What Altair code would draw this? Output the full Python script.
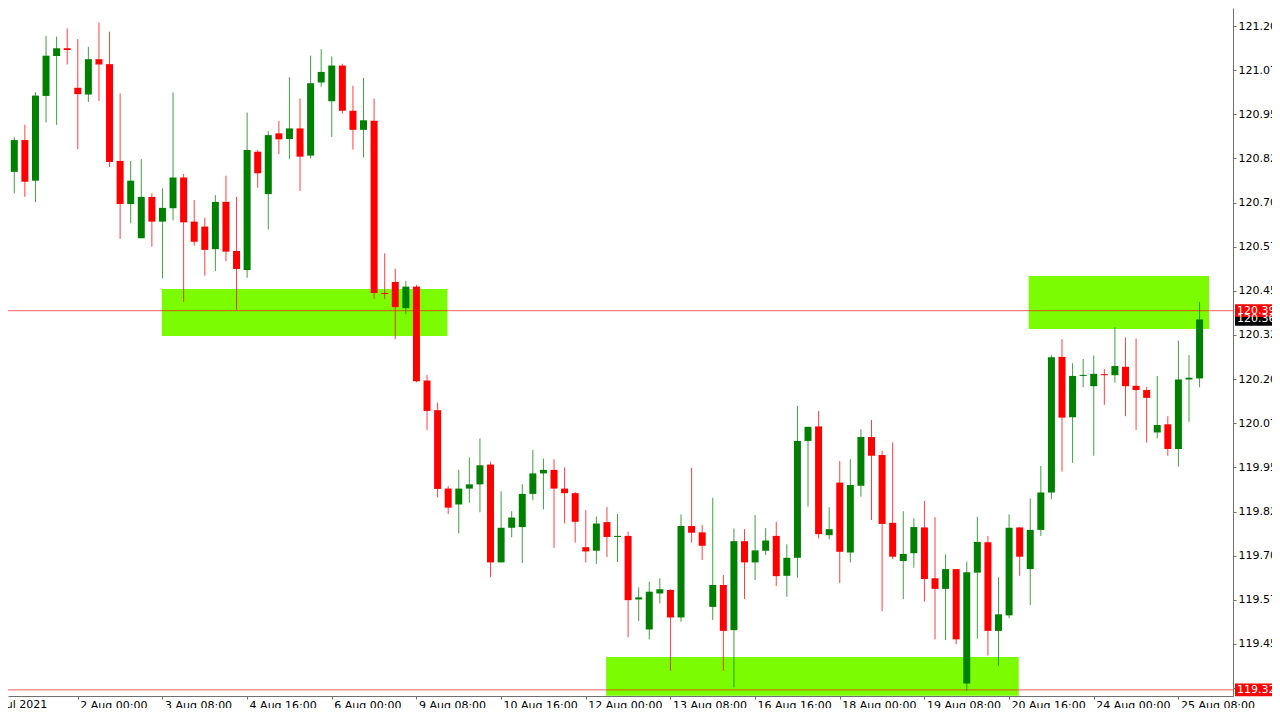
import json
import altair as alt
import pandas as pd

# ---- candle data (H4) ----
opens = [
    120.787, 120.877, 120.762, 121.002, 121.115, 121.137, 121.025, 121.006, 121.106, 121.092,
    120.818, 120.696, 120.599, 120.716, 120.646, 120.684, 120.771, 120.646, 120.632, 120.568,
    120.702, 120.563, 120.509, 120.844, 120.724, 120.896, 120.880, 120.910, 120.833, 121.040,
    120.987, 121.088, 120.960, 120.906, 120.932, 120.444, 120.475, 120.401, 120.462, 120.196,
    120.112, 119.890, 119.845, 119.890, 119.902, 119.958, 119.681, 119.779, 119.781, 119.875,
    119.933, 119.943, 119.890, 119.877, 119.724, 119.714, 119.795, 119.753, 119.756, 119.576,
    119.491, 119.593, 119.603, 119.525, 119.784, 119.766, 119.555, 119.617, 119.489, 119.741,
    119.681, 119.714, 119.756, 119.643, 119.694, 120.025, 120.066, 119.758, 119.907, 119.709,
    119.898, 120.036, 119.985, 119.793, 119.685, 119.707, 119.780, 119.636, 119.606, 119.662,
    119.338, 119.652, 119.738, 119.487, 119.531, 119.780, 119.662, 119.773, 119.879, 120.263,
    120.092, 120.209, 120.180, 120.214, 120.211, 120.235, 120.181, 120.169, 120.049, 120.072,
    120.002, 120.199, 120.202]
closes = [
    120.877, 120.759, 121.003, 121.116, 121.137, 121.132, 121.007, 121.106, 121.091, 120.815,
    120.696, 120.762, 120.716, 120.646, 120.685, 120.771, 120.644, 120.589, 120.566, 120.702,
    120.561, 120.512, 120.849, 120.783, 120.891, 120.879, 120.910, 120.830, 121.038, 121.070,
    121.088, 120.960, 120.906, 120.933, 120.444, 120.441, 120.404, 120.462, 120.194, 120.110,
    119.889, 119.836, 119.890, 119.902, 119.956, 119.681, 119.779, 119.808, 119.875, 119.933,
    119.943, 119.890, 119.877, 119.796, 119.712, 119.791, 119.753, 119.756, 119.574, 119.582,
    119.598, 119.605, 119.525, 119.784, 119.765, 119.728, 119.617, 119.487, 119.741, 119.681,
    119.715, 119.743, 119.642, 119.694, 120.025, 120.065, 119.761, 119.775, 119.711, 119.900,
    120.036, 119.983, 119.790, 119.697, 119.705, 119.781, 119.634, 119.606, 119.662, 119.463,
    119.653, 119.739, 119.487, 119.534, 119.779, 119.697, 119.773, 119.879, 120.262, 120.091,
    120.209, 120.212, 120.215, 120.211, 120.237, 120.180, 120.169, 120.147, 120.070, 120.002,
    120.199, 120.204, 120.369]
highs = [
    120.886, 120.920, 121.012, 121.172, 121.170, 121.193, 121.163, 121.141, 121.210, 121.184,
    121.009, 120.818, 120.823, 120.726, 120.740, 121.012, 120.781, 120.707, 120.657, 120.721,
    120.776, 120.716, 120.955, 120.849, 120.902, 120.931, 121.055, 120.995, 121.116, 121.134,
    121.114, 121.093, 121.031, 121.053, 120.994, 120.556, 120.513, 120.478, 120.467, 120.212,
    120.133, 119.897, 119.943, 119.978, 120.032, 119.966, 119.882, 119.826, 119.902, 119.999,
    119.975, 119.973, 119.950, 119.880, 119.829, 119.811, 119.838, 119.818, 119.768, 119.610,
    119.626, 119.636, 119.605, 119.817, 119.949, 119.787, 119.864, 119.645, 119.777, 119.775,
    119.815, 119.778, 119.796, 119.732, 120.124, 120.065, 120.110, 119.837, 119.968, 119.973,
    120.058, 120.084, 119.997, 120.021, 119.826, 119.806, 119.855, 119.809, 119.704, 119.662,
    119.683, 119.810, 119.756, 119.639, 119.817, 119.780, 119.862, 119.954, 120.268, 120.313,
    120.245, 120.257, 120.267, 120.229, 120.347, 120.318, 120.315, 120.178, 120.209, 120.095,
    120.309, 120.268, 120.419]
lows = [
    120.726, 120.716, 120.701, 120.927, 120.920, 121.091, 120.851, 120.985, 120.988, 120.801,
    120.597, 120.641, 120.599, 120.575, 120.485, 120.650, 120.419, 120.578, 120.493, 120.506,
    120.534, 120.396, 120.487, 120.742, 120.624, 120.837, 120.823, 120.733, 120.825, 121.028,
    120.886, 120.952, 120.850, 120.828, 120.427, 120.427, 120.313, 120.384, 120.191, 120.056,
    119.865, 119.818, 119.763, 119.850, 119.823, 119.639, 119.681, 119.752, 119.679, 119.857,
    119.831, 119.722, 119.791, 119.737, 119.681, 119.677, 119.696, 119.682, 119.469, 119.515,
    119.463, 119.565, 119.374, 119.513, 119.737, 119.688, 119.518, 119.374, 119.327, 119.577,
    119.631, 119.702, 119.614, 119.584, 119.638, 119.839, 119.749, 119.746, 119.622, 119.681,
    119.867, 119.801, 119.543, 119.690, 119.577, 119.666, 119.570, 119.463, 119.461, 119.449,
    119.317, 119.465, 119.417, 119.388, 119.523, 119.643, 119.560, 119.756, 119.860, 119.938,
    119.963, 120.177, 119.983, 120.127, 120.190, 120.095, 120.056, 120.020, 120.032, 119.983,
    119.952, 120.079, 120.177]

# x-axis time labels (every 8 bars)
tick_bars = [6, 14, 22, 30, 38, 46, 54, 62, 70, 78, 86, 94, 102, 110]
tick_labels = ["2 Aug 00:00", "3 Aug 08:00", "4 Aug 16:00", "6 Aug 00:00",
               "9 Aug 08:00", "10 Aug 16:00", "12 Aug 00:00", "13 Aug 08:00",
               "16 Aug 16:00", "18 Aug 00:00", "19 Aug 08:00", "20 Aug 16:00",
               "24 Aug 00:00", "25 Aug 08:00"]
first_label = "30 Jul 2021"

# price-axis labels
price_ticks = [119.325, 119.450, 119.575, 119.700, 119.825, 119.950, 120.075, 120.200,
               120.325, 120.450, 120.575, 120.700, 120.825, 120.950, 121.075, 121.200]

# supply / demand zones (bar index range, price range)
zone_start = [13.94, 55.92, 95.85]
zone_end = [40.93, 94.91, 112.9]
zone_top = [120.455, 119.413, 120.492]
zone_bottom = [120.322, 119.303, 120.342]

# horizontal levels and price tags
levels = [120.394, 119.320]
tag_prices = [120.369, 120.394, 119.320]
tag_colors = ["black", "#ff0000", "#ff0000"]

# ---- layout ----
W, H = 1225, 688
xs = alt.Scale(domain=[-0.122, 114.686], nice=False, zero=False)
ys = alt.Scale(domain=[119.3026, 121.251], nice=False, zero=False)
FONT = "DejaVu Sans"

label_expr = json.dumps(tick_labels) + "[round((datum.value - 6) / 8)]"
xaxis = alt.Axis(values=tick_bars, labelExpr=label_expr, title=None, grid=False,
                 orient="bottom", domainColor="#707070", tickColor="#707070",
                 tickSize=3, labelAlign="left", labelBaseline="top", labelPadding=0,
                 labelOffset=2, labelFont=FONT, labelFontSize=11, labelColor="black",
                 labelOverlap=False, labelFlush=False)
yaxis = alt.Axis(values=price_ticks, format=".3f", title=None, grid=False,
                 orient="right", domainColor="#707070", tickColor="#707070",
                 tickSize=3, labelPadding=2, labelFont=FONT, labelFontSize=11,
                 labelColor="black", labelOverlap=False, labelFlush=False,
                 labelAlign="left")

candles = pd.DataFrame({
    "bar": list(range(len(opens))),
    "open": opens, "high": highs, "low": lows, "close": closes,
})
candles["dir"] = ["up" if c >= o else "down" for o, c in zip(opens, closes)]
color = alt.Color("dir:N", scale=alt.Scale(domain=["up", "down"],
                                           range=["#008000", "#ff0000"]), legend=None)

zones = pd.DataFrame({"x1": zone_start, "x2": zone_end,
                      "top": zone_top, "bottom": zone_bottom})
zone_layer = alt.Chart(zones).mark_rect(color="#7CFC00").encode(
    x=alt.X("x1:Q", scale=xs, axis=xaxis), x2="x2:Q",
    y=alt.Y("top:Q", scale=ys, axis=yaxis), y2="bottom:Q")

level_layer = alt.Chart(pd.DataFrame({"price": levels})).mark_rule(
    color="#ff0000", opacity=0.5, strokeWidth=1.2).encode(
    y=alt.Y("price:Q", scale=ys, axis=yaxis))

wick_layer = alt.Chart(candles).mark_rule(strokeWidth=1, opacity=0.75).encode(
    x=alt.X("bar:Q", scale=xs, axis=xaxis),
    y=alt.Y("low:Q", scale=ys, axis=yaxis), y2="high:Q", color=color)

body_layer = alt.Chart(candles).mark_bar(size=7).encode(
    x=alt.X("bar:Q", scale=xs, axis=xaxis),
    y=alt.Y("open:Q", scale=ys, axis=yaxis), y2="close:Q", color=color)

half = 0.018
tags = pd.DataFrame({"price": tag_prices, "col": tag_colors})
tags["yt"] = tags["price"] + half
tags["yb"] = tags["price"] - half
tags["label"] = [f"{p:.3f}" for p in tag_prices]

tag_rect = alt.Chart(tags).mark_rect().encode(
    x=alt.value(W + 2), x2=alt.value(W + 60),
    y=alt.Y("yt:Q", scale=ys, axis=yaxis), y2="yb:Q",
    color=alt.Color("col:N", scale=None))
tag_text = alt.Chart(tags).mark_text(align="left", baseline="middle", font=FONT,
                                     fontSize=11, color="white").encode(
    x=alt.value(W + 4), y=alt.Y("price:Q", scale=ys, axis=yaxis), text="label:N")

first_text = alt.Chart(pd.DataFrame({"t": [first_label]})).mark_text(
    align="left", baseline="top", font=FONT, fontSize=11, color="black").encode(
    x=alt.value(-23), y=alt.value(H + 3), text="t:N")

chart = alt.layer(zone_layer, level_layer, wick_layer, body_layer,
                  tag_rect, tag_text, first_text).properties(
    width=W, height=H,
    autosize=alt.AutoSizeParams(type="none"),
    padding={"left": 0, "top": 0, "right": 39, "bottom": 12},
    background="white",
).configure_view(stroke=None)

chart.save("out.html", embed_options={"renderer": "svg", "actions": False})
